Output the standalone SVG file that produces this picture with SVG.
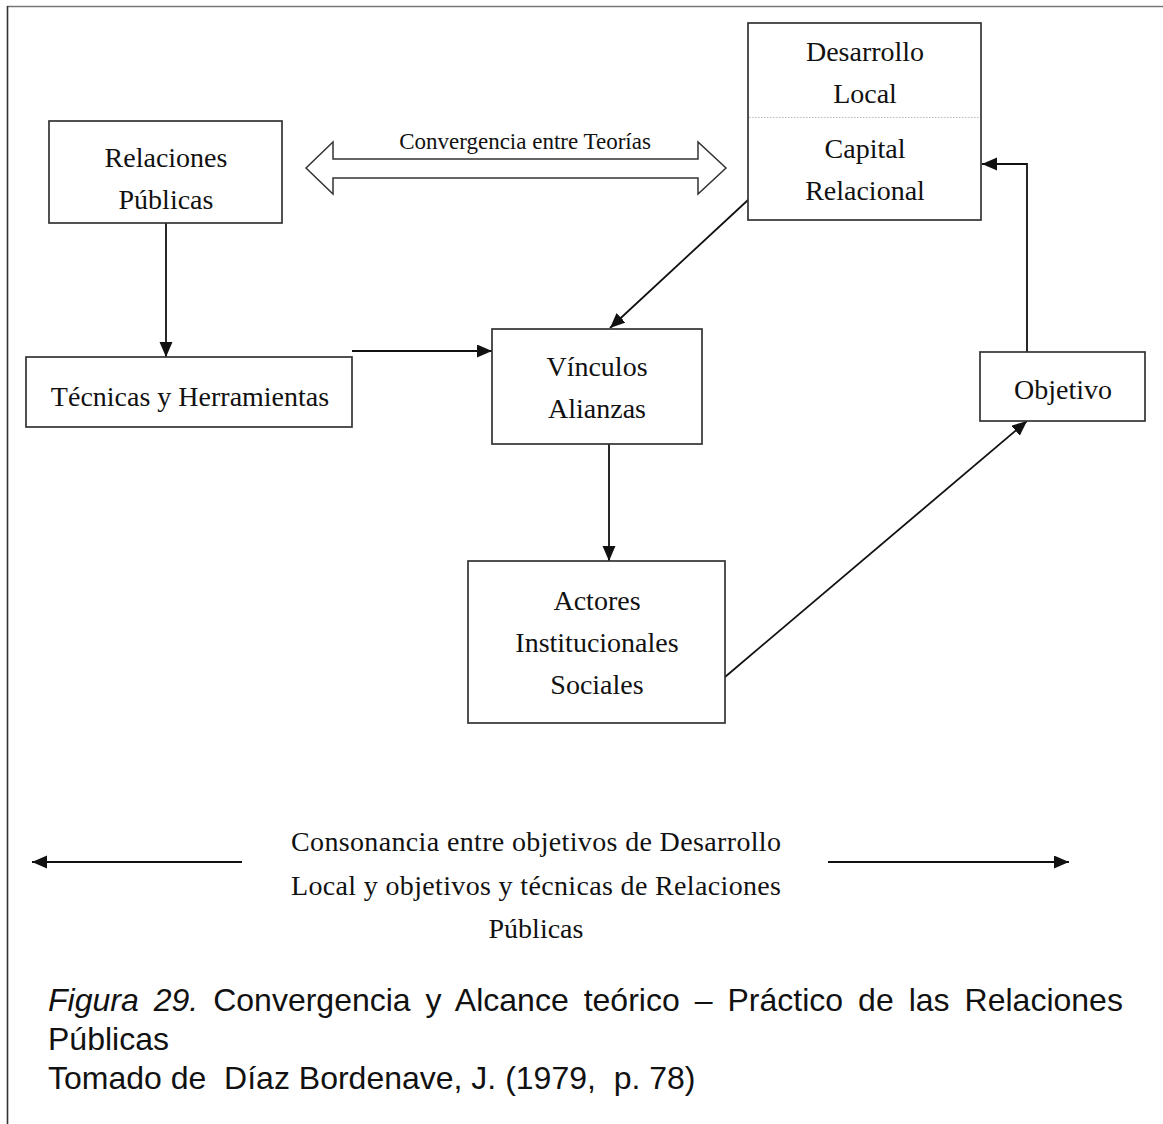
<svg xmlns="http://www.w3.org/2000/svg" width="1163" height="1124" viewBox="0 0 1163 1124">
  <style>
    .box { fill: #fff; stroke: #333; stroke-width: 1.7; }
    .lbl { font-family: "Liberation Serif", "Times New Roman", serif; font-size: 28px; fill: #111; text-anchor: middle; }
    .small { font-size: 23px; }
    .wire { fill: none; stroke: #111; stroke-width: 1.8; }
    .cap { font-family: "Liberation Sans", Arial, sans-serif; font-size: 32px; fill: #111; }
  </style>
  <defs>
    <marker id="head" markerUnits="userSpaceOnUse" markerWidth="17" markerHeight="15" refX="15" refY="6.5" orient="auto">
      <path d="M0,0 L15,6.5 L0,13 z" fill="#111"/>
    </marker>
  </defs>
  <rect width="1163" height="1124" fill="#fff"/>

  <!-- page frame -->
  <line x1="7" y1="6.5" x2="1163" y2="6.5" stroke="#777" stroke-width="1.3"/>
  <line x1="7.5" y1="6" x2="7.5" y2="1124" stroke="#333" stroke-width="1.6"/>

  <!-- connectors -->
  <g id="connectors">
    <line class="wire" x1="166" y1="223" x2="166" y2="357" marker-end="url(#head)"/>
    <line class="wire" x1="352" y1="351" x2="492" y2="351" marker-end="url(#head)"/>
    <line class="wire" x1="748" y1="200" x2="610" y2="328" marker-end="url(#head)"/>
    <line class="wire" x1="609" y1="444" x2="609" y2="561" marker-end="url(#head)"/>
    <line class="wire" x1="725" y1="677" x2="1027" y2="421" marker-end="url(#head)"/>
    <polyline class="wire" points="1027,352 1027,164 982,164" marker-end="url(#head)"/>
    <line class="wire" x1="242" y1="862" x2="32" y2="862" marker-end="url(#head)"/>
    <line class="wire" x1="828" y1="862" x2="1069" y2="862" marker-end="url(#head)"/>
    <!-- block double arrow between the two theories -->
    <polygon points="306,168 333,142 333,159 698,159 698,142 726,168 698,194 698,178 333,178 333,194" fill="#fff" stroke="#333" stroke-width="1.5"/>
    <text class="lbl small" x="525" y="149">Convergencia entre Teorías</text>
  </g>

  <g id="relaciones-publicas">
    <rect class="box" x="49" y="121" width="233" height="102"/>
    <text class="lbl" x="166" y="167">Relaciones</text>
    <text class="lbl" x="166" y="209">Públicas</text>
  </g>

  <g id="desarrollo-capital">
    <rect class="box" x="748" y="23" width="233" height="197"/>
    <line x1="749" y1="117.5" x2="980" y2="117.5" stroke="#bbb" stroke-width="1" stroke-dasharray="1.5 1.5"/>
    <text class="lbl" x="865" y="61">Desarrollo</text>
    <text class="lbl" x="865" y="103">Local</text>
    <text class="lbl" x="865" y="158">Capital</text>
    <text class="lbl" x="865" y="200">Relacional</text>
  </g>

  <g id="tecnicas">
    <rect class="box" x="26" y="357" width="326" height="70"/>
    <text class="lbl" x="190" y="406">Técnicas y Herramientas</text>
  </g>

  <g id="vinculos">
    <rect class="box" x="492" y="329" width="210" height="115"/>
    <text class="lbl" x="597" y="376">Vínculos</text>
    <text class="lbl" x="597" y="418">Alianzas</text>
  </g>

  <g id="objetivo">
    <rect class="box" x="980" y="352" width="165" height="69"/>
    <text class="lbl" x="1063" y="399">Objetivo</text>
  </g>

  <g id="actores">
    <rect class="box" x="468" y="561" width="257" height="162"/>
    <text class="lbl" x="597" y="610">Actores</text>
    <text class="lbl" x="597" y="652">Institucionales</text>
    <text class="lbl" x="597" y="694">Sociales</text>
  </g>

  <g id="consonancia">
    <text class="lbl" x="536" y="851" textLength="490" lengthAdjust="spacing">Consonancia entre objetivos de Desarrollo</text>
    <text class="lbl" x="536" y="895" textLength="490" lengthAdjust="spacing">Local y objetivos y técnicas de Relaciones</text>
    <text class="lbl" x="536" y="938">Públicas</text>
  </g>

  <g id="caption">
    <text class="cap" x="48" y="1011" word-spacing="6.1"><tspan font-style="italic">Figura 29.</tspan> Convergencia y Alcance teórico – Práctico de las Relaciones</text>
    <text class="cap" x="48" y="1050">Públicas</text>
    <text class="cap" x="48" y="1089" xml:space="preserve">Tomado de  Díaz Bordenave, J. (1979,  p. 78)</text>
  </g>
</svg>
